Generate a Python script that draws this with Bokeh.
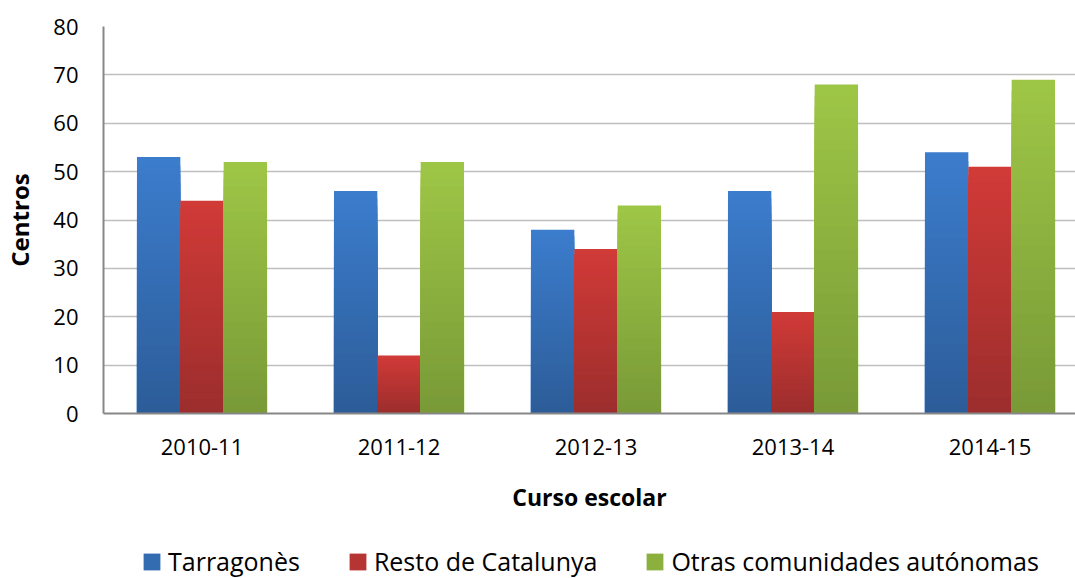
import numpy as np
from bokeh.plotting import figure
from bokeh.layouts import column
from bokeh.models import (ColumnDataSource, Range1d, FixedTicker, Legend, LegendItem)
from bokeh.embed import file_html
from bokeh.resources import INLINE

# ---- data ----
cursos = ["2010-11", "2011-12", "2012-13", "2013-14", "2014-15"]
tarragones = [53, 46, 38, 46, 54]
resto_catalunya = [44, 12, 34, 21, 51]
otras_comunidades = [52, 52, 43, 68, 69]
series_names = ["Tarragonès", "Resto de Catalunya", "Otras comunidades autónomas"]
y_ticks = [0, 10, 20, 30, 40, 50, 60, 70, 80]

FONT = "Open Sans"

# ---- styles ----
series = [
    (tarragones, -0.22, "#3B7CCC", "#2D5D99"),
    (resto_catalunya, 0.0, "#D03A37", "#9C2E2D"),
    (otras_comunidades, 0.22, "#9EC646", "#799A37"),
]
BAR_W = 0.22
N = 30


def hex2rgb(h):
    h = h.lstrip("#")
    return [int(h[i:i + 2], 16) for i in (0, 2, 4)]


def mix(c_bottom, c_top, t):
    a, b = hex2rgb(c_bottom), hex2rgb(c_top)
    return "#%02x%02x%02x" % tuple(int(round(a[j] + (b[j] - a[j]) * t)) for j in range(3))


p = figure(width=1075, height=525, output_backend="svg", toolbar_location=None,
           x_range=Range1d(-0.5, 4.434), y_range=Range1d(0, 80),
           min_border_left=103, min_border_top=26, min_border_right=0,
           min_border_bottom=112)
p.outline_line_color = None
p.background_fill_color = "white"
p.border_fill_color = "white"

for (vals, off, top_c, bot_c), name in zip(series, series_names):
    xs, tops, cols = [], [], []
    for i, v in enumerate(vals):
        for k in range(N, 0, -1):
            xs.append(i + off)
            tops.append(v * k / N)
            cols.append(mix(bot_c, top_c, (k - 1) / (N - 1)))
    src = ColumnDataSource(dict(x=xs, top=tops, color=cols))
    p.vbar(x="x", top="top", bottom=0, width=BAR_W, source=src,
           fill_color="color", line_color=None)

# grid
p.xgrid.grid_line_color = None
p.ygrid.grid_line_color = "#BFBFBF"
p.ygrid.grid_line_width = 1.6
p.ygrid.ticker = FixedTicker(ticks=y_ticks)

# y axis
p.yaxis.ticker = FixedTicker(ticks=y_ticks)
p.yaxis.axis_line_color = "#878787"
p.yaxis.axis_line_width = 2
p.yaxis.major_tick_line_color = None
p.yaxis.minor_tick_line_color = None
p.yaxis.major_tick_out = 0
p.yaxis.major_label_standoff = 25
p.yaxis.major_label_text_font = FONT
p.yaxis.major_label_text_font_size = "22px"
p.yaxis.major_label_text_color = "black"
p.yaxis.axis_label = "Centros"
p.yaxis.axis_label_text_font = FONT
p.yaxis.axis_label_text_font_style = "bold"
p.yaxis.axis_label_text_font_size = "24px"
p.yaxis.axis_label_text_color = "black"
p.yaxis.axis_label_standoff = 14

# x axis
p.xaxis.ticker = FixedTicker(ticks=list(range(len(cursos))))
p.xaxis.major_label_overrides = {i: c for i, c in enumerate(cursos)}
p.xaxis.axis_line_color = "#878787"
p.xaxis.axis_line_width = 2
p.xaxis.major_tick_line_color = None
p.xaxis.minor_tick_line_color = None
p.xaxis.major_tick_out = 0
p.xaxis.major_label_standoff = 25
p.xaxis.major_label_text_font = FONT
p.xaxis.major_label_text_font_size = "22px"
p.xaxis.major_label_text_color = "black"
p.xaxis.axis_label = "Curso escolar"
p.xaxis.axis_label_text_font = FONT
p.xaxis.axis_label_text_font_style = "bold"
p.xaxis.axis_label_text_font_size = "23px"
p.xaxis.axis_label_text_color = "black"
p.xaxis.axis_label_standoff = 23

# ---- legend strip (separate figure) ----
lg = figure(width=1075, height=53, output_backend="svg", toolbar_location=None,
            x_range=Range1d(0, 1), y_range=Range1d(0, 1),
            min_border=0, x_axis_type=None, y_axis_type=None)
lg.outline_line_color = None
lg.xgrid.visible = False
lg.ygrid.visible = False
items = []
for (vals, off, top_c, bot_c), name in zip(series, series_names):
    # a single off-range point so the legend has a glyph to draw
    r = lg.vbar(x=[-10], top=[-10], bottom=[-11], width=0.1,
                fill_color=mix(bot_c, top_c, 0.5), line_color=None)
    items.append(LegendItem(label=name, renderers=[r], index=0))

legend = Legend(items=items, orientation="horizontal", location=(38, 0),
                padding=0, margin=0, spacing=47, label_standoff=6,
                glyph_width=21, glyph_height=21, label_height=34,
                label_text_font=FONT, label_text_font_size="25px",
                label_text_color="black", background_fill_alpha=0,
                border_line_color=None)
lg.add_layout(legend, "center")

layout = column(p, lg, spacing=0)
open("out.html", "w").write(file_html(layout, INLINE))
